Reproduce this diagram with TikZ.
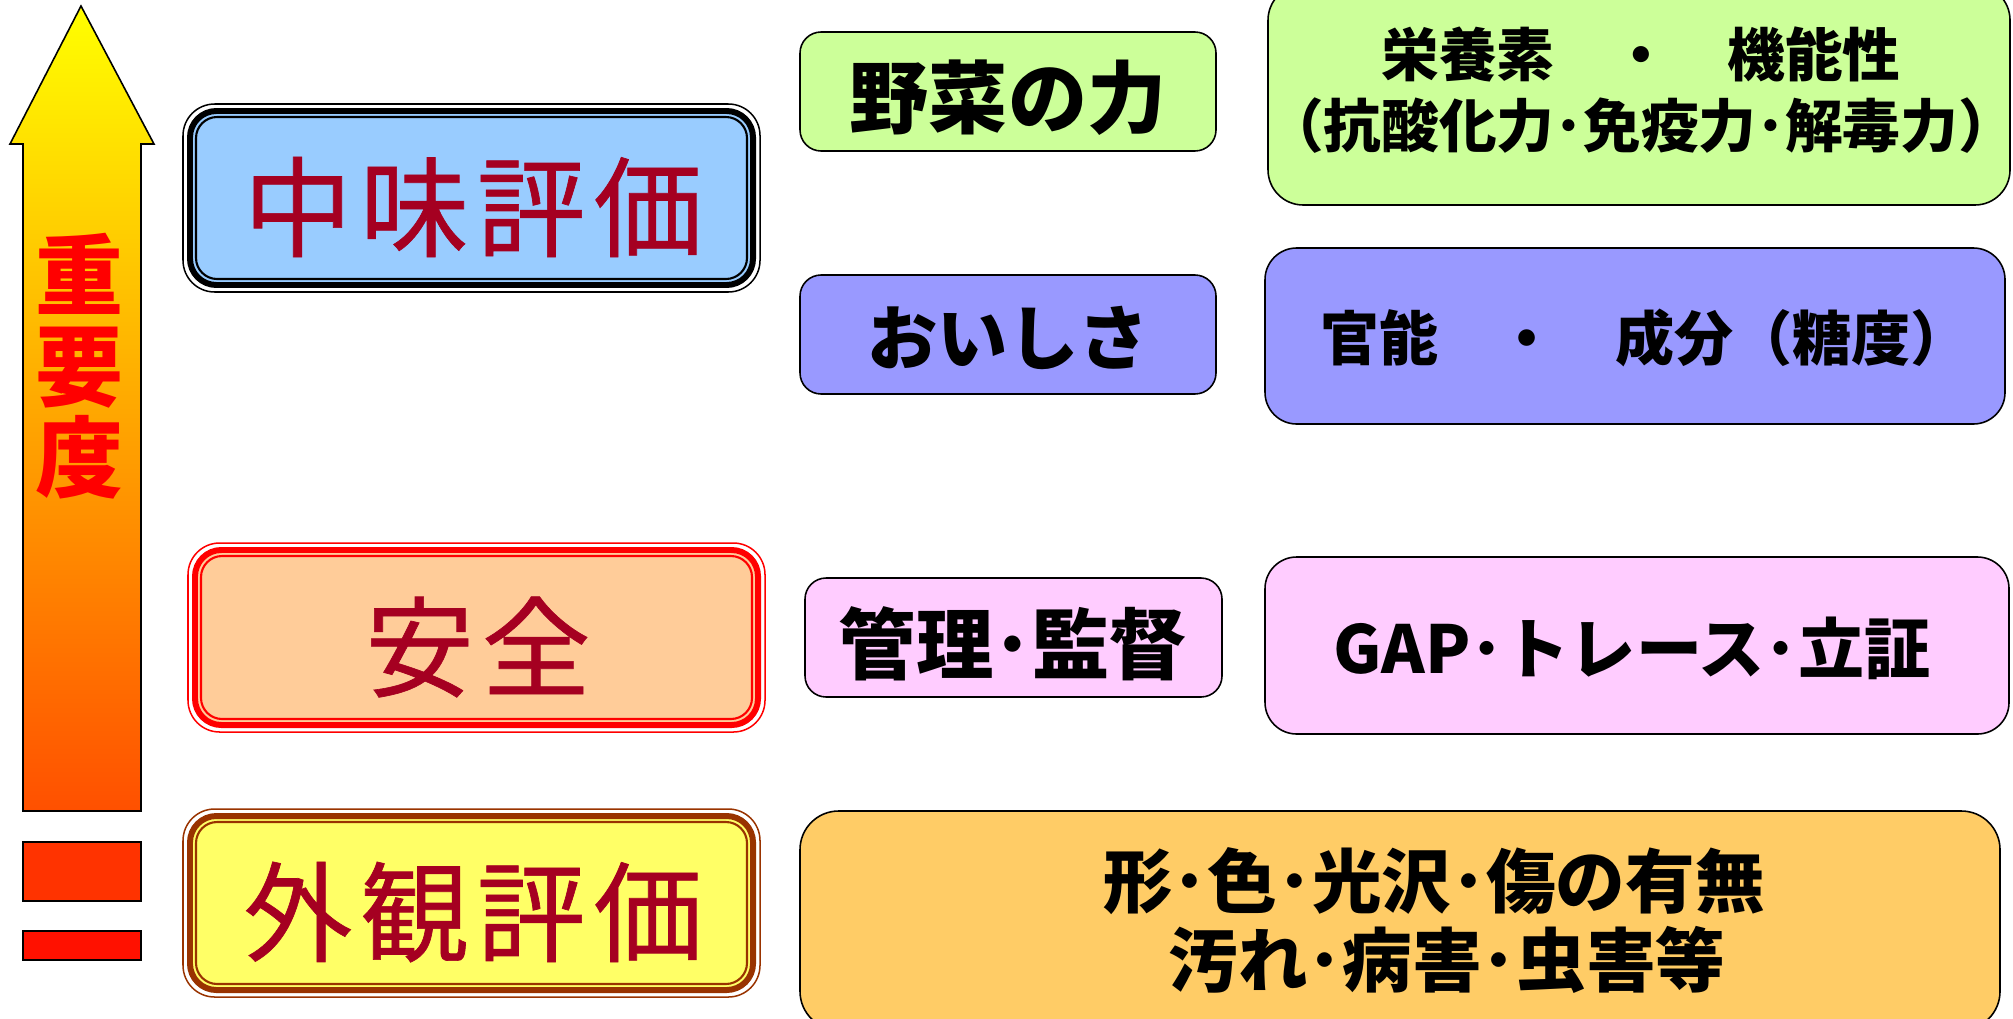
\documentclass[tikz,border=0pt]{standalone}
\usepackage{fontspec}
\newfontfamily\jp{Noto Sans CJK JP}
\newfontfamily\jpfb[FakeBold=0.6]{Noto Sans CJK JP}
\definecolor{lblue}{HTML}{99CCFF}
\definecolor{peach}{HTML}{FFCC99}
\definecolor{lyellow}{HTML}{FFFF66}
\definecolor{brownline}{HTML}{993300}
\definecolor{dred}{HTML}{A50021}
\definecolor{lgreen}{HTML}{CCFF99}
\definecolor{lpurple}{HTML}{9999FF}
\definecolor{lpink}{HTML}{FFCCFF}
\definecolor{lorange}{HTML}{FFCC66}
\definecolor{arrtop}{HTML}{FFFF00}
\definecolor{arrmid}{HTML}{FFB800}
\definecolor{arrbot}{HTML}{FF5000}
\definecolor{barone}{HTML}{FF3300}
\definecolor{bartwo}{HTML}{FF1100}
\newcommand\TriBox[6]{%
  \draw[#5, line width=0.43pt, rounded corners=9pt] (#1+1,#2+1) rectangle (#3-1,#4-1);
  \fill[#6, rounded corners=7.5pt] (#1+8,#2+8) rectangle (#3-8,#4-8);
  \draw[#5, line width=1.7pt, rounded corners=7.5pt] (#1+8,#2+8) rectangle (#3-8,#4-8);
  \draw[#5, line width=0.6pt, rounded corners=6pt] (#1+14,#2+14) rectangle (#3-14,#4-14);
}
\newcommand\ls{\hspace{2.2pt}}
\tikzset{
  bigtext/.style={font=\jpfb\fontsize{31}{34}\selectfont, text=dred, inner sep=0pt},
  rtext/.style={font=\jp\bfseries\fontsize{22}{26}\selectfont, inner sep=0pt, align=center},
  rbox/.style={draw=black, line width=0.45pt},
}
\begin{document}
\begin{tikzpicture}[x=0.01cm,y=-0.01cm]
\useasboundingbox (0,0) rectangle (2013,1018);
% importance arrow
\shade[top color=arrtop, middle color=arrmid, bottom color=arrbot]
  (81,6) -- (154,144) -- (141,144) -- (141,811) -- (23,811) -- (23,144) -- (10,144) -- cycle;
\draw[line width=0.45pt, line join=miter]
  (81,6) -- (154,144) -- (141,144) -- (141,811) -- (23,811) -- (23,144) -- (10,144) -- cycle;
\node[font=\jp\bfseries\fontsize{25}{25.9}\selectfont, text=red, align=center, inner sep=0pt] (juuyoudo) at (79,366) {重\\要\\度};
\draw[fill=barone, line width=0.45pt] (23,842) rectangle (141,901);
\draw[fill=bartwo, line width=0.45pt] (23,931) rectangle (141,960);
% left boxes
\TriBox{182}{103}{761}{293}{black}{lblue}
\node[bigtext] (nakami) at (473,207) {中\ls 味\ls 評\ls 価};
\TriBox{187}{542}{766}{733}{red}{peach}
\node[bigtext] (anzen) at (478,647) {安\ls 全};
\TriBox{182}{808}{761}{998}{brownline}{lyellow}
\node[bigtext] (gaikan) at (473,912) {外\ls 観\ls 評\ls 価};
% right boxes
\draw[rbox, fill=lgreen, rounded corners=6pt] (800,32) rectangle (1216,151);
\node[rtext, font=\jp\bfseries\fontsize{22.5}{26}\selectfont] (yasai) at (1008,98) {野菜の力};
\draw[rbox, fill=lgreen, rounded corners=10pt] (1268,-15) rectangle (2010,205);
\node[rtext, font=\jp\bfseries\fontsize{16.4}{20}\selectfont] (eiyou) at (1641,90) {栄養素　・　機能性\\（抗酸化力･免疫力･解毒力）};
\draw[rbox, fill=lpurple, rounded corners=6pt] (800,275) rectangle (1216,394);
\node[rtext, font=\jp\bfseries\fontsize{20}{24}\selectfont] (oishisa) at (1008,338) {おいしさ};
\draw[rbox, fill=lpurple, rounded corners=9pt] (1265,248) rectangle (2005,424);
\node[rtext, font=\jp\bfseries\fontsize{16.8}{20}\selectfont] (kannou) at (1645,338) {官能　・　成分（糖度）};
\draw[rbox, fill=lpink, rounded corners=6pt] (805,578) rectangle (1222,697);
\node[rtext] (kanri) at (1013,644) {管理･監督};
\draw[rbox, fill=lpink, rounded corners=9pt] (1265,557) rectangle (2009,734);
\node[rtext, font=\jp\bfseries\fontsize{18.8}{24}\selectfont] (gap) at (1632,648) {GAP･トレース･立証};
\draw[rbox, fill=lorange, rounded corners=11pt] (800,811) rectangle (2000,1030);
\node[rtext, font=\jp\bfseries\fontsize{19.8}{24}\selectfont] (katachi) at (1434,881) {形･色･光沢･傷の有無};
\node[rtext, font=\jp\bfseries\fontsize{19.8}{24}\selectfont] (yogore) at (1447,960) {汚れ･病害･虫害等};
\end{tikzpicture}
\end{document}
